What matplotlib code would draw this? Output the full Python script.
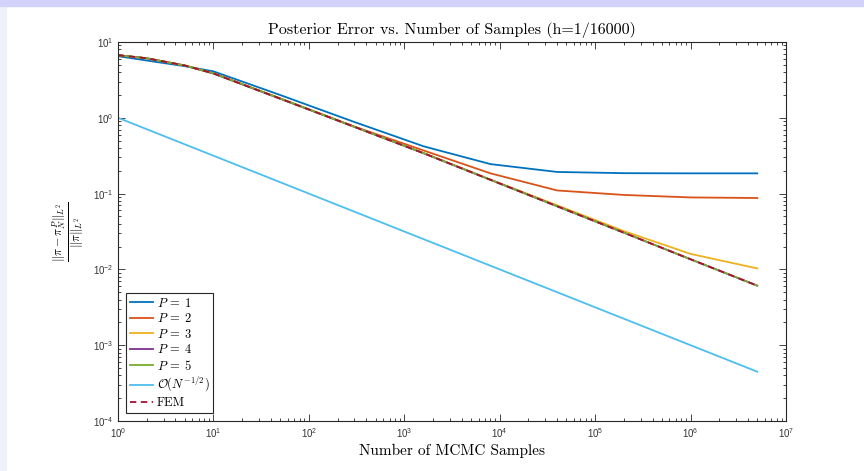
import numpy as np
import matplotlib
matplotlib.use('Agg')
import matplotlib.pyplot as plt
from matplotlib.patches import Rectangle
from matplotlib.ticker import LogLocator, FuncFormatter, NullFormatter

plt.rcParams['mathtext.fontset'] = 'cm'
plt.rcParams['axes.formatter.use_mathtext'] = True

# sample counts
N = [1, 2, 5, 10, 50, 300, 1600, 8000, 4e4, 2e5, 1e6, 5e6]

# relative L2 errors
err_p1 = [6.5, 5.7, 4.8, 4.1, 2.0, 0.88, 0.42, 0.245, 0.193, 0.186, 0.185, 0.185]
err_p2 = [6.7, 6.1, 4.9, 3.85, 1.8, 0.765, 0.37, 0.185, 0.11, 0.096, 0.089, 0.0875]
err_p3 = [6.7, 6.1, 4.9, 3.85, 1.79, 0.76, 0.342, 0.153, 0.070, 0.032, 0.016, 0.0103]
err_p4 = [6.7, 6.1, 4.9, 3.85, 1.79, 0.76, 0.340, 0.152, 0.068, 0.0305, 0.0136, 0.0061]
err_p5 = [6.7, 6.1, 4.9, 3.86, 1.80, 0.76, 0.341, 0.152, 0.068, 0.0305, 0.0136, 0.0061]
err_fem = [6.7, 6.1, 4.9, 3.85, 1.79, 0.76, 0.340, 0.152, 0.068, 0.0305, 0.0136, 0.0061]

# reference slope line, end points
N_ref = [1, 5e6]
err_ref = [1.0, 4.47e-4]

colors = ['#0072BD', '#D95319', '#EDB120', '#7E2F8E', '#77AC30', '#4DBEEE', '#A2142F']

fig = plt.figure(figsize=(8.64, 4.71), dpi=100)
# slide frame
fig.patches.append(Rectangle((0, 0), 6/864, 1, transform=fig.transFigure, color='#f0f0fb', zorder=0))
fig.patches.append(Rectangle((0, 1-6/471), 1, 6/471, transform=fig.transFigure, color='#d2d2fa', zorder=0))

ax = fig.add_axes([118/864, 50/471, 668/864, 379/471])
lw = 1.3
ax.loglog(N, err_p1, color=colors[0], lw=lw, label=r'$P\:=\:1$')
ax.loglog(N, err_p2, color=colors[1], lw=lw, label=r'$P\:=\:2$')
ax.loglog(N, err_p3, color=colors[2], lw=lw, label=r'$P\:=\:3$')
ax.loglog(N, err_p4, color=colors[3], lw=lw, label=r'$P\:=\:4$')
ax.loglog(N, err_p5, color=colors[4], lw=lw, label=r'$P\:=\:5$')
ax.loglog(N_ref, err_ref, color=colors[5], lw=lw, label=r'$\mathcal{O}(N^{-1/2})$')
ax.loglog(N, err_fem, color=colors[6], lw=lw, ls=(0, (3.5, 2.5)), label='FEM')

ax.set_xlim(1, 1e7)
ax.set_ylim(1e-4, 10)

ax.xaxis.set_major_locator(LogLocator(base=10, numticks=20))
ax.yaxis.set_major_locator(LogLocator(base=10, numticks=20))
ax.xaxis.set_minor_locator(LogLocator(base=10, subs=np.arange(2, 10), numticks=20))
ax.yaxis.set_minor_locator(LogLocator(base=10, subs=np.arange(2, 10), numticks=20))
ax.xaxis.set_minor_formatter(NullFormatter())
ax.yaxis.set_minor_formatter(NullFormatter())
fmt = FuncFormatter(lambda v, p: r'$\mathregular{10^{%d}}$' % int(round(np.log10(v))))
ax.xaxis.set_major_formatter(fmt)
ax.yaxis.set_major_formatter(fmt)
ax.tick_params(which='both', direction='in', top=True, right=True, color='#262626',
               labelcolor='#333333', labelsize=7)
ax.tick_params(which='major', length=5, width=0.6)
ax.tick_params(which='minor', length=2.5, width=0.6)
for lab in ax.get_xticklabels() + ax.get_yticklabels():
    lab.set_fontfamily('Liberation Sans')
for s in ax.spines.values():
    s.set_color('#262626')
    s.set_linewidth(0.8)

ax.set_title('Posterior Error vs. Number of Samples (h=1/16000)', fontfamily='cmr10',
             fontsize=11.5, pad=6)
ax.set_xlabel('Number of MCMC Samples', fontfamily='cmr10', fontsize=11, labelpad=3)
ax.set_ylabel(r'$\frac{\|\pi-\pi_N^P\|_{L^2}}{\|\pi\|_{L^2}}$', fontsize=12.5, labelpad=5)

leg = ax.legend(loc='lower left', prop={'family': 'cmr10', 'size': 9}, fancybox=False,
                framealpha=1, edgecolor='#262626', handlelength=1.85, handletextpad=0.3,
                labelspacing=0.2, borderpad=0.3, borderaxespad=0.65)
leg.get_frame().set_linewidth(0.8)

fig.savefig('out.png', dpi=100)
